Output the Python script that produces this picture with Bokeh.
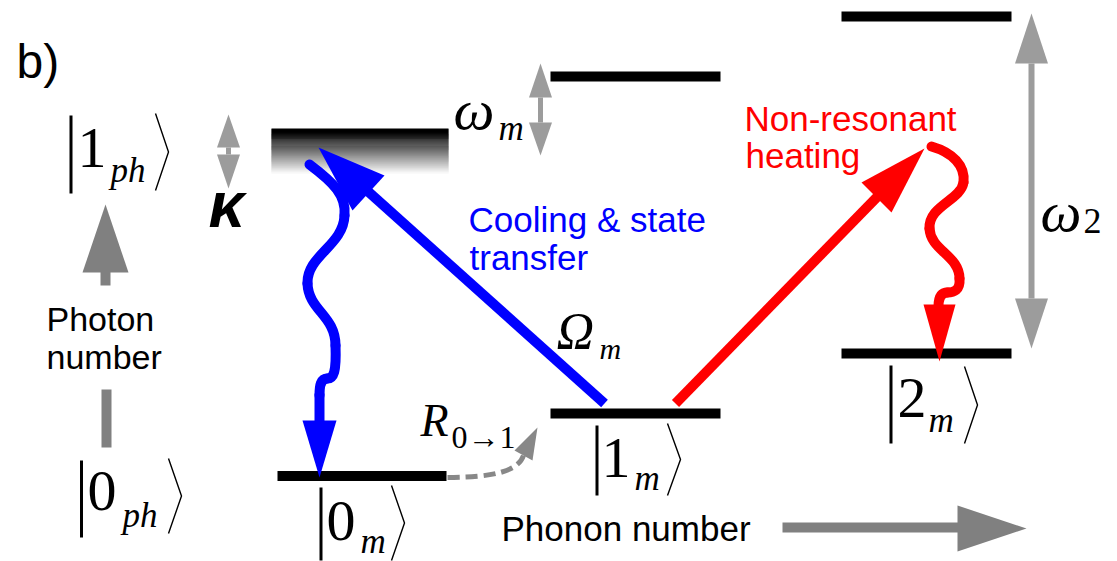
import numpy as np
from bokeh.plotting import figure
from bokeh.models import Range1d
from bokeh.embed import file_html
from bokeh.resources import INLINE
from bokeh.core.properties import value

# ---------------- data ----------------
# phonon manifolds: |n_m> levels, photon 0 (ground) and photon 1 (excited)
phonon_states = ["0", "1", "2"]
level_left = [277, 550, 841]
level_right = [446, 720, 1011]
ground_y = [475.5, 413, 353]
excited_y = [150.5, 76, 16]          # first one is the kappa-broadened cavity level
cavity_top, cavity_bottom = 128, 173

# ket labels: main symbol, subscript
ket_main = ["1", "0", "0", "1", "2"]
ket_sub = ["ph", "ph", "m", "m", "m"]

label_panel = "b)"
label_photon = ["Photon", "number"]
label_phonon = "Phonon number"
label_cooling = ["Cooling & state", "transfer"]
label_heating = ["Non-resonant", "heating"]

# ---------------- figure ----------------
W, H = 1117, 561
p = figure(width=W, height=H, x_range=Range1d(0, W), y_range=Range1d(H, 0),
           x_axis_type=None, y_axis_type=None, output_backend="svg",
           toolbar_location=None, min_border=0)
p.grid.visible = False
p.outline_line_color = None
p.background_fill_color = "white"
p.border_fill_color = "white"

SANS = value("Liberation Sans")
SERIF = value("Liberation Serif")
BLUE = "#0000ff"
RED = "#ff0000"
GDARK = "#808080"
GLIGHT = "#9c9c9c"
TH = 5  # half thickness of level bars

# levels
p.quad(left=level_left, right=level_right,
       top=[y - TH for y in ground_y], bottom=[y + TH for y in ground_y],
       fill_color="black", line_color=None)
p.quad(left=level_left[1:], right=level_right[1:],
       top=[y - TH for y in excited_y[1:]], bottom=[y + TH for y in excited_y[1:]],
       fill_color="black", line_color=None)

# gradient (broadened) cavity level
n = 46
edges = np.linspace(cavity_top, cavity_bottom, n + 1)
shades = np.clip(np.linspace(-20, 250, n), 0, 255).astype(int)
cols = ["#%02x%02x%02x" % (s, s, s) for s in shades]
p.quad(left=271, right=448, top=edges[:-1], bottom=edges[1:] + 0.6,
       fill_color=cols, line_color=None)


def tri(pts, color):
    p.patch([q[0] for q in pts], [q[1] for q in pts], fill_color=color, line_color=None)


def double_arrow(x, tip_top, base_top, base_bot, tip_bot, width, shaft, color):
    tri([(x, tip_top), (x - width / 2, base_top), (x + width / 2, base_top)], color)
    tri([(x, tip_bot), (x - width / 2, base_bot), (x + width / 2, base_bot)], color)
    p.segment(x0=[x], y0=[base_top], x1=[x], y1=[base_bot], line_width=shaft, line_color=color)


# kappa, omega_m, omega_2 double arrows
double_arrow(228, 114, 147, 154, 188, 23, 5, GLIGHT)
double_arrow(540, 63, 97, 122, 155, 23, 5, GLIGHT)
double_arrow(1031, 13, 63, 298, 348, 33, 6, GLIGHT)

# photon number arrow (vertical)
tri([(105, 204), (82, 272), (128, 272)], GDARK)
p.quad(left=100, right=110, top=271, bottom=285, fill_color=GDARK, line_color=None)
p.quad(left=101, right=111, top=389, bottom=447, fill_color=GDARK, line_color=None)

# phonon number arrow (horizontal)
p.quad(left=782, right=958, top=522, bottom=532, fill_color=GDARK, line_color=None)
tri([(1026, 528), (957, 505), (957, 551)], GDARK)

# blue straight arrow (cooling)
p.segment(x0=[604], y0=[403], x1=[362], y1=[186], line_width=10, line_color=BLUE)
tri([(318, 147), (384, 175), (352, 210)], BLUE)

# red straight arrow (heating)
p.segment(x0=[675], y0=[403], x1=[881], y1=[192], line_width=10, line_color=RED)
tri([(924, 148), (861, 182), (891, 212)], RED)

# blue wavy decay
p.bezier(x0=[309, 344, 307, 335, 327], y0=[164, 215, 283, 345, 378],
         x1=[344, 307, 335, 327, 319], y1=[215, 283, 345, 378, 395],
         cx0=[333, 343, 308, 336, 320], cy0=[182, 245, 310, 372, 378],
         cx1=[346, 306, 335, 333, 319], cy1=[195, 255, 315, 378, 385],
         line_width=10, line_color=BLUE, line_cap="round")
p.segment(x0=[319], y0=[393], x1=[319], y1=[422], line_width=10, line_color=BLUE)
tri([(319, 477), (302, 420), (336, 420)], BLUE)

# red wavy decay
p.bezier(x0=[931, 963, 929, 959, 947], y0=[146, 182, 228, 278, 292],
         x1=[963, 929, 959, 947, 938], y1=[182, 228, 278, 292, 306],
         cx0=[952, 960, 930, 960, 940], cy0=[152, 200, 250, 290, 292],
         cx1=[965, 928, 959, 953, 938], cy1=[165, 205, 255, 292, 298],
         line_width=10, line_color=RED, line_cap="round")
tri([(939, 361), (923, 304), (955, 304)], RED)

# dashed thermal excitation R_{0->1}
p.bezier(x0=[447], y0=[477], x1=[523], y1=[455], cx0=[495], cy0=[477], cx1=[518], cy1=[470],
         line_width=5, line_color="#888888", line_dash="12 6")
tri([(537, 427), (514, 450), (532, 460)], "#888888")

# ket brackets
bar_x = [70.5, 81, 320.5, 596.5, 890.5]
bar_top = [115, 460, 487, 425, 365]
bar_bot = [193, 537, 560, 495, 443]
p.segment(x0=bar_x, y0=bar_top, x1=bar_x, y1=bar_bot, line_width=3, line_color="black")
ang_x = [155, 168, 391, 667, 964]
ang_top = [113, 458, 485, 423, 366]
ang_bot = [190, 533, 560, 495, 443]
ang_dx = 13
p.multi_line(xs=[[a, a + ang_dx, a] for a in ang_x],
             ys=[[t, (t + b) / 2, b] for t, b in zip(ang_top, ang_bot)],
             line_width=1.4, line_color="black")

K = 0.33  # empirical baseline correction (fraction of font size)


def txt(x, y, s, size, font=SANS, color="black", style="normal"):
    p.text(x=[x], y=[y - K * size], text=[s], text_font=font,
           text_font_size=value(f"{size}px"),
           text_color=color, text_font_style=style, text_baseline="alphabetic",
           text_align="left")


# ket texts
main_x = [77, 87, 326, 601, 897]
main_y = [167, 510, 540, 477, 417]
sub_x = [110, 122, 360, 634, 928]
sub_y = [182, 527, 553, 490, 432]
for s, x, y in zip(ket_main, main_x, main_y):
    txt(x, y, s, 58, SERIF)
for s, x, y in zip(ket_sub, sub_x, sub_y):
    txt(x, y, s, 35, SERIF, style="italic")

# math labels
txt(453, 128, "ω", 58, SERIF, style="italic")
txt(498, 140, "m", 35, SERIF, style="italic")
txt(1040, 230, "ω", 58, SERIF, style="italic")
txt(1083, 232, "2", 36, SERIF)
txt(556, 348, "Ω", 52, SERIF, style="italic")
txt(599, 358, "m", 30, SERIF, style="italic")
txt(420, 435, "R", 46, SERIF, style="italic")
txt(451, 447, "0→1", 32, SERIF)
txt(208, 226, "κ", 64, SANS, style="bold italic")

# plain texts
txt(16, 77, label_panel, 48)
txt(46, 330, label_photon[0], 34)
txt(46, 368, label_photon[1], 34)
txt(501, 540, label_phonon, 35)
txt(468, 231, label_cooling[0], 35, color=BLUE)
txt(469, 269, label_cooling[1], 35, color=BLUE)
txt(744, 130, label_heating[0], 35, color=RED)
txt(745, 167, label_heating[1], 35, color=RED)

open("out.html", "w").write(file_html(p, INLINE))
